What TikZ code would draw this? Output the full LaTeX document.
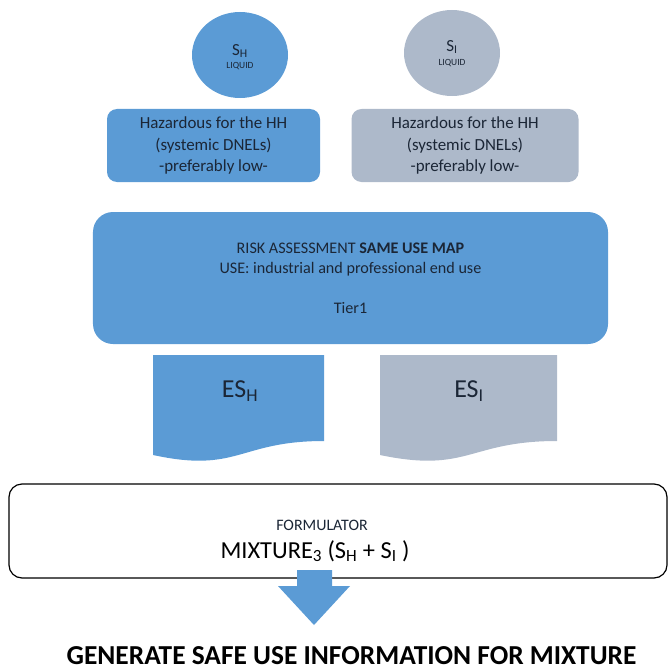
\documentclass[tikz,border=0pt]{standalone}
\usepackage{fontspec}
\setmainfont{Carlito}
\usetikzlibrary{calc,shapes.geometric}

\definecolor{hblue}{HTML}{5B9BD5}
\definecolor{igrey}{HTML}{ADB9CA}
\definecolor{ink}{HTML}{1B2636}

\tikzset{
  blob/.style={ellipse, minimum width=96bp, minimum height=86bp, inner sep=0pt, text=ink},
  hazbox/.style={rounded corners=10bp, minimum height=73bp, inner sep=0pt, align=center,
                 text=ink, font=\fontsize{17}{21.5}\selectfont},
  bigbox/.style={rounded corners=20bp, fill=hblue, minimum width=515bp, minimum height=132bp,
                 inner sep=0pt, align=center, text=ink, font=\fontsize{16.2}{20}\selectfont},
  doclabel/.style={text=ink, font=\fontsize{26}{30}\selectfont},
  formbox/.style={draw=black, line width=1.2bp, rounded corners=13bp, fill=white,
                  minimum width=658bp, minimum height=94bp, inner sep=0pt},
}

\begin{document}
\begin{tikzpicture}[x=1bp, y=-1bp]
  \useasboundingbox (0,0) rectangle (668,670);

  % substances
  \node[blob, fill=hblue] (sh) at (240,55) {};
  \node[text=ink, font=\fontsize{17}{17}\selectfont] (shname) at (240,51) {S\textsubscript{H}};
  \node[text=ink, font=\fontsize{9.5}{10}\selectfont] (shliq) at (240,66) {LIQUID};

  \node[blob, fill=igrey] (si) at (452,53) {};
  \node[text=ink, font=\fontsize{17}{17}\selectfont] (siname) at (452,47) {S\textsubscript{I}};
  \node[text=ink, font=\fontsize{9.5}{10}\selectfont] (siliq) at (452,63) {LIQUID};

  % hazard descriptions
  \node[hazbox, fill=hblue, minimum width=213bp] (hazh) at (213.5,145.5)
    {Hazardous for the HH\\(systemic DNELs)\\-preferably low-};
  \node[hazbox, fill=igrey, minimum width=227bp] (hazi) at (465,145.5)
    {Hazardous for the HH\\(systemic DNELs)\\-preferably low-};

  % risk assessment
  \node[bigbox] (ra) at (350.5,278)
    {RISK ASSESSMENT \textbf{SAME USE MAP}\\USE: industrial and professional end use\\[20bp]Tier1};

  % exposure scenarios (document shapes)
  \fill[hblue] (153,355) -- (324,355) -- (324,441)
     .. controls (238.5,441) and (238.5,473.5) .. (153,455) -- cycle;
  \node[doclabel] (esh) at (240,391) {ES\textsubscript{H}};

  \fill[igrey] (380,355) -- (557,355) -- (557,441)
     .. controls (468.5,441) and (468.5,473.5) .. (380,455) -- cycle;
  \node[doclabel] (esi) at (469,391) {ES\textsubscript{I}};

  % formulator
  \node[formbox] (form) at (338,531) {};
  \node[text=ink, font=\fontsize{16}{18}\selectfont] (formname) at (322,525) {FORMULATOR};
  \node[text=black, font=\fontsize{24.5}{28}\selectfont] (mix) at (315,551)
    {MIXTURE\textsubscript{3} (S\textsubscript{H} + S\textsubscript{I} )};

  % block arrow
  \coordinate (tip) at (314,625);
  \fill[hblue] ($(tip)+(-17,-55)$) -- ($(tip)+(18,-55)$) -- ($(tip)+(18,-39)$)
     -- ($(tip)+(36,-39)$) -- (tip) -- ($(tip)+(-36,-39)$) -- ($(tip)+(-17,-39)$) -- cycle;

  % conclusion
  \node[text=black, font=\bfseries\fontsize{27.5}{30}\selectfont, anchor=base,
        inner sep=0pt, text depth=0pt] (result) at (351.5,664.5)
    {GENERATE SAFE USE INFORMATION FOR MIXTURE};
\end{tikzpicture}
\end{document}
